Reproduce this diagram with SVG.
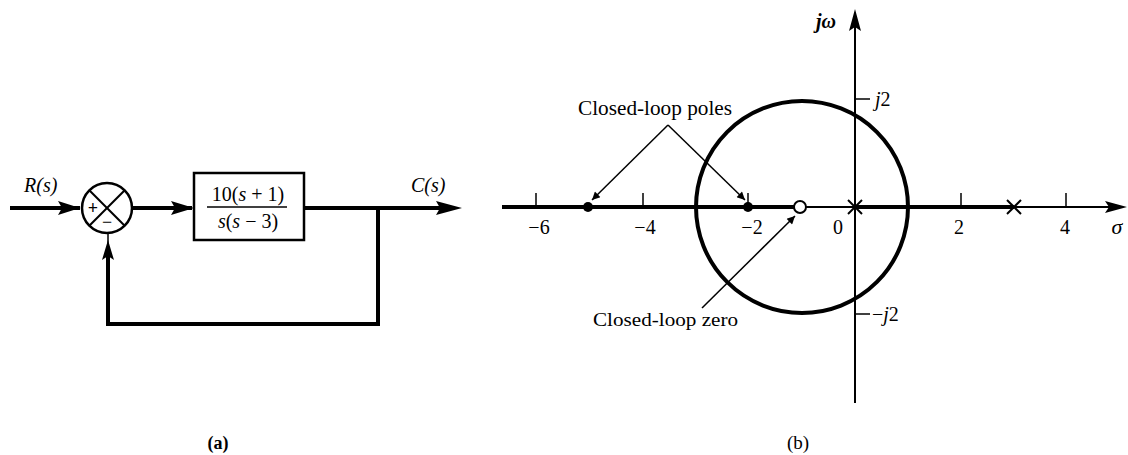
<svg xmlns="http://www.w3.org/2000/svg" width="1128" height="455" viewBox="0 0 1128 455">
<style>
text{font-family:"Liberation Serif","Times New Roman",serif;fill:#000}
.lbl{font-size:20px}
.it{font-style:italic}
.thick{stroke:#000;stroke-width:4;fill:none}
.thin{stroke:#000;stroke-width:1.5;fill:none}
.ax{stroke:#000;stroke-width:2;fill:none}
</style>
<defs>
<marker id="ah" viewBox="0 0 10 10" refX="10" refY="5" markerWidth="10" markerHeight="8" markerUnits="userSpaceOnUse" orient="auto"><path d="M0,0 L10,5 L0,10 Z" fill="#000"/></marker>
</defs>
<rect width="1128" height="455" fill="#fff"/>

<!-- (a) block diagram -->
<g id="sum">
<circle cx="107" cy="208" r="25" fill="#fff" stroke="#000" stroke-width="2.5"/>
<line x1="89.3" y1="190.3" x2="124.7" y2="225.7" stroke="#000" stroke-width="2"/>
<line x1="124.7" y1="190.3" x2="89.3" y2="225.7" stroke="#000" stroke-width="2"/>
<text x="93" y="214" font-size="18" font-weight="bold" text-anchor="middle">+</text>
<text x="107" y="228" font-size="18" text-anchor="middle">−</text>
</g>
<g id="block">
<rect x="194" y="173" width="110" height="67" fill="#fff" stroke="#000" stroke-width="2.5"/>
<text x="248" y="201" class="lbl" text-anchor="middle">10(<tspan class="it">s</tspan> + 1)</text>
<line x1="207" y1="207" x2="287" y2="207" stroke="#000" stroke-width="1.5"/>
<text x="248" y="228" class="lbl" text-anchor="middle"><tspan class="it">s</tspan>(<tspan class="it">s</tspan> − 3)</text>
</g>
<g id="labels-a">
<text x="24" y="192" class="lbl it">R(s)</text>
<text x="411" y="192" class="lbl it">C(s)</text>
<text x="218" y="449" font-size="18" font-weight="bold" text-anchor="middle">(a)</text>
</g>
<g id="connectors-a">
<line x1="10" y1="208" x2="80" y2="208" class="thick"/>
<path d="M80,208 L58,201 L62,208 L58,215 Z" fill="#000"/>
<line x1="132" y1="208" x2="192" y2="208" class="thick"/>
<path d="M194,208 L171,201 L175,208 L171,215 Z" fill="#000"/>
<line x1="304" y1="208" x2="442" y2="208" class="thick"/>
<path d="M462,208 L436,201 L440,208 L436,215 Z" fill="#000"/>
<polyline points="378,208 378,324 108,324 108,252" class="thick"/>
<line x1="108" y1="252" x2="108" y2="233" stroke="#000" stroke-width="1.5"/>
<path d="M108,240 L102,260 L108,256 L114,260 Z" fill="#000"/>
</g>

<!-- (b) root locus -->
<g id="axes">
<line x1="502" y1="207" x2="1116" y2="207" class="ax"/>
<path d="M1127,207 L1105,201 L1109,207 L1105,213 Z" fill="#000"/>
<line x1="855" y1="403" x2="855" y2="20" class="ax"/>
<path d="M855,9 L849,31 L855,27 L861,31 Z" fill="#000"/>
<g stroke="#000" stroke-width="1.5">
<line x1="536" y1="193" x2="536" y2="207"/>
<line x1="643" y1="193" x2="643" y2="207"/>
<line x1="748" y1="193" x2="748" y2="207"/>
<line x1="961" y1="193" x2="961" y2="207"/>
<line x1="1066" y1="193" x2="1066" y2="207"/>
<line x1="855" y1="99" x2="870" y2="99"/>
<line x1="855" y1="314" x2="870" y2="314"/>
</g>
<g font-size="20" text-anchor="middle">
<text x="539" y="234">−6</text>
<text x="645" y="234">−4</text>
<text x="752" y="234">−2</text>
<text x="838" y="234">0</text>
<text x="959" y="234">2</text>
<text x="1065" y="234">4</text>
</g>
<text x="1117" y="234" font-size="22" class="it" text-anchor="middle">σ</text>
<text x="816" y="28" font-size="20" class="it" font-weight="bold">jω</text>
<text x="875" y="106" font-size="20" class="it">j<tspan font-style="normal">2</tspan></text>
<text x="872" y="321" font-size="20">−<tspan class="it">j</tspan>2</text>
</g>
<g id="locus">
<circle cx="802" cy="207" r="106" class="thick"/>
<line x1="502" y1="207" x2="795" y2="207" class="thick"/>
<line x1="855" y1="207" x2="1014" y2="207" class="thick"/>
</g>
<g id="poles-zeros">
<circle cx="588" cy="207" r="5" fill="#000"/>
<circle cx="748" cy="207" r="5" fill="#000"/>
<circle cx="800" cy="207" r="6" fill="#fff" stroke="#000" stroke-width="2"/>
<g stroke="#000" stroke-width="2">
<line x1="848" y1="200" x2="862" y2="214"/>
<line x1="862" y1="200" x2="848" y2="214"/>
<line x1="1007" y1="200" x2="1021" y2="214"/>
<line x1="1021" y1="200" x2="1007" y2="214"/>
</g>
</g>
<g id="annotations">
<text x="578" y="115" font-size="20" textLength="154" lengthAdjust="spacingAndGlyphs">Closed-loop poles</text>
<text x="593" y="326" font-size="19" textLength="145" lengthAdjust="spacingAndGlyphs">Closed-loop zero</text>
<text x="798" y="449" font-size="19" text-anchor="middle">(b)</text>
</g>
<g id="connectors-b">
<line x1="668" y1="125" x2="592" y2="200" class="thin" marker-end="url(#ah)"/>
<line x1="668" y1="125" x2="745" y2="200" class="thin" marker-end="url(#ah)"/>
<line x1="702" y1="308" x2="795" y2="216" class="thin" marker-end="url(#ah)"/>
</g>
</svg>
